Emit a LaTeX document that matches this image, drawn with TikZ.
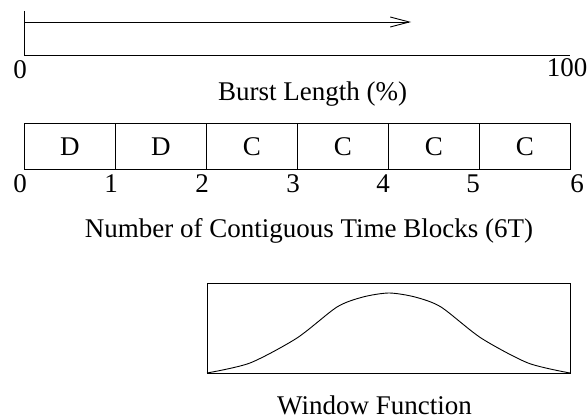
\documentclass[tikz,border=0pt]{standalone}
\usepackage{fontspec}
\setmainfont{Liberation Serif}
\usetikzlibrary{arrows.meta}
\begin{document}
\begin{tikzpicture}[x=1pt,y=-1pt,line width=0.9pt,
  lbl/.style={inner sep=0pt,anchor=base,font=\fontsize{27}{31}\selectfont},
  cell/.style={draw,minimum width=91pt,minimum height=46pt,inner sep=0pt,anchor=north west,font=\fontsize{27}{31}\selectfont}]
\useasboundingbox (0,0) rectangle (587,420);
% burst length axis
\coordinate (vt) at (24,11);
\coordinate (o) at (24,55);
\coordinate (e) at (570,55);
\coordinate (as) at (24,22);
\coordinate (ae) at (411,22);
\draw (vt) -- (o) -- (e);
\draw[-{Straight Barb[length=19pt,width=10pt,line width=0.9pt]}] (as) -- (ae);
\node[lbl] (z0) at (20,78) {0};
\node[lbl] (h100) at (567,77) {100};
\node[lbl] (bl) at (312.5,101) {Burst Length (\%)};
% blocks
\foreach \i/\t in {0/D,1/D,2/C,3/C,4/C,5/C}{
  \node[cell] (b\i) at (24+91*\i,123) {\t};
}
\foreach \i/\xx in {0/20,1/111,2/202,3/293,4/383,5/473,6/577}{
  \node[lbl] (n\i) at (\xx,192) {\i};
}
\node[lbl] (nb) at (309,237) {Number of Contiguous Time Blocks (6T)};
% window function
\node[draw,minimum width=363pt,minimum height=90pt,inner sep=0pt,anchor=north west] (wf) at (207,283) {};
\draw plot[smooth,tension=0.45] coordinates {(207,373) (250,363) (297,338) (337,307) (363,297) (389,293) (415,297) (441,307) (481,338) (528,363) (570,373)};
\node[lbl] (wl) at (374.5,414) {Window Function};
\end{tikzpicture}
\end{document}
